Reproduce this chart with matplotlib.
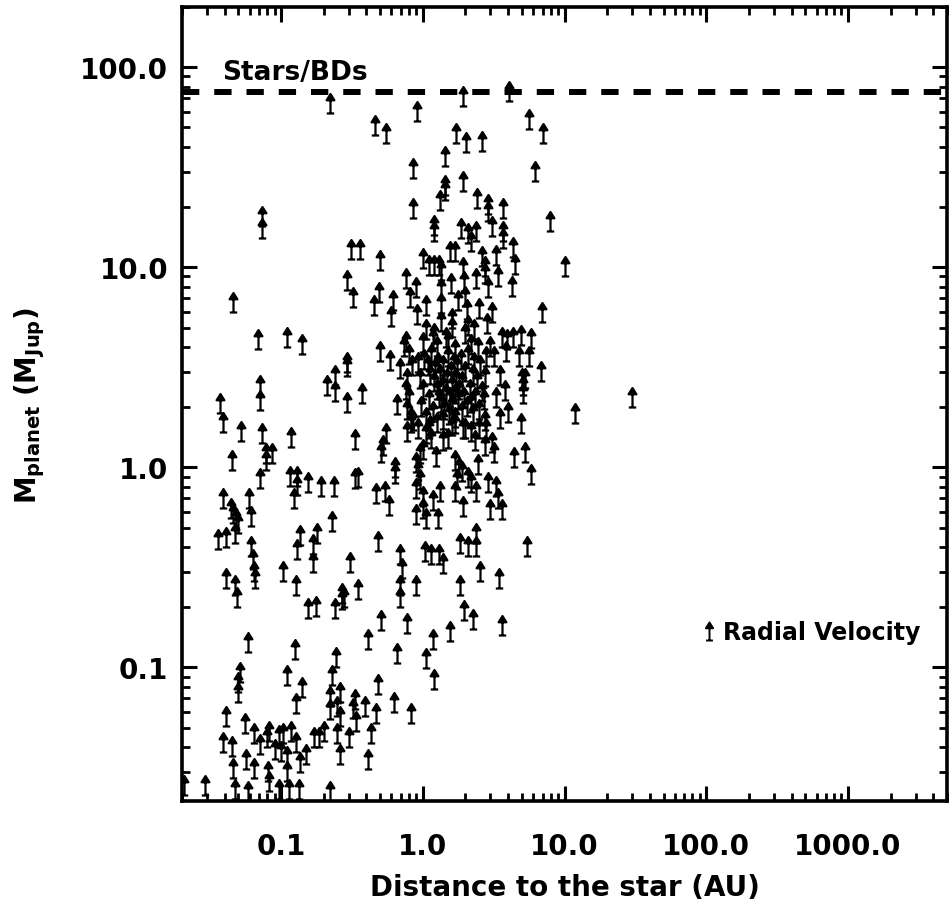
import matplotlib
matplotlib.use('Agg')
import matplotlib.pyplot as plt
from matplotlib.path import Path
from matplotlib.lines import Line2D
from matplotlib.ticker import FixedLocator, LogLocator, NullFormatter

plt.rcParams['font.family'] = ['DejaVu Sans']
plt.rcParams['font.weight'] = 'bold'
plt.rcParams['mathtext.default'] = 'bf'

# radial velocity planets: (semi-major axis in AU, minimum mass in M_Jup)
planets = [
    # outer / high-mass part
    (0.22, 59), (0.46, 46), (0.55, 42), (0.073, 14), (0.073, 16), (0.31, 11), (0.36, 11), (0.50, 9.7),
    (0.91, 54), (1.92, 64), (4.05, 68), (5.6, 49), (7.1, 42), (1.71, 42), (2.01, 37.6), (2.6, 38),
    (1.43, 32), (0.85, 28), (6.2, 27), (1.92, 24), (1.43, 21.6), (1.43, 23), (1.32, 19.3), (2.4, 19.7),
    (2.9, 17), (2.9, 18.5), (3.7, 17.6), (0.85, 17.6), (7.9, 15.2), (3.07, 14.3), (1.2, 13.6), (1.2, 14.5),
    (1.85, 14), (2.08, 13.2), (2.37, 13.5), (3.7, 13.5), (3.7, 12.5), (4.3, 11.3), (2.2, 12), (1.55, 10.8),
    (1.7, 10.8), (2.6, 10.2), (3.3, 10.3), (4.5, 9.3), (1.0, 9.9), (1.1, 9.1), (1.2, 9.1), (1.3, 9.1), (10, 9.0),
    # around 1-10 AU
    (6.9, 5.3), (6.8, 2.7), (30, 2.0), (11.8, 1.66), (5.3, 1.06), (4.4, 1.01), (5.8, 0.83), (3.6, 0.55),
    (3.0, 0.55), (3.4, 0.63), (1.92, 0.57), (1.28, 0.5), (1.05, 0.5), (0.89, 0.52), (0.89, 7.1), (1.05, 5.75),
    (0.91, 5.2), (1.6, 5.0), (1.34, 8.6), (1.34, 7.0), (1.34, 5.9), (1.34, 4.8), (1.58, 7.4), (1.76, 6.1),
    (1.92, 8.9), (1.95, 7.6), (2.0, 6.4), (2.05, 5.5), (2.1, 4.6), (2.37, 7.9), (2.74, 8.3), (2.74, 9.0),
    (2.9, 7.1), (3.4, 8.1), (4.25, 7.2), (2.5, 5.6), (3.07, 5.3), (2.83, 4.7), (3.6, 4.0), (3.9, 3.9),
    (4.3, 4.0), (4.9, 4.1), (5.8, 3.95), (3.85, 3.4), (4.76, 3.2), (5.6, 3.2), (5.3, 2.5), (1.0, 3.76),
    (1.18, 3.95), (1.45, 4.0), (3.0, 3.6), (2.45, 3.55), (3.2, 3.2), (3.5, 2.57), (3.8, 2.16), (3.3, 2.0),
    (5.1, 2.1), (5.1, 2.3), (5.0, 2.5), (3.97, 1.68), (4.9, 1.48), (3.5, 1.58), (2.74, 1.53), (2.25, 1.66),
    (3.1, 1.19), (2.5, 1.41), (2.8, 1.41), (2.0, 1.41), (3.2, 1.06), (2.74, 1.15), (2.33, 1.22), (2.2, 1.36),
    (1.7, 0.97), (1.8, 0.9), (1.9, 0.85), (2.1, 0.8), (1.75, 0.78), (2.45, 0.93), (2.88, 0.75), (3.3, 0.72),
    (2.37, 0.68), (2.18, 0.75), (1.7, 0.68), (1.32, 0.68), (1.18, 0.61), (1.0, 0.56), (0.9, 0.95), (0.93, 0.86),
    (0.95, 0.78), (0.9, 0.7), (1.0, 0.64), (0.95, 1.05), (1.0, 1.1), (1.24, 1.02), (1.05, 1.32), (1.15, 1.25),
    (1.1, 1.4), (1.38, 1.22), (1.5, 1.25), (1.68, 1.48), (1.92, 1.41), (0.85, 1.53), (0.93, 1.41),
    (1.05, 4.4), (1.2, 4.2), (1.25, 3.6), (1.5, 3.8), (1.6, 4.5), (1.7, 3.5), (2.0, 4.2), (2.2, 3.7), (2.3, 4.4),
    # dense core
    (1.02, 3.1), (1.08, 2.9), (1.12, 2.6), (1.15, 3.3), (1.2, 2.4), (1.22, 2.8), (1.25, 2.2), (1.28, 3.0),
    (1.3, 2.0), (1.32, 2.6), (1.35, 1.9), (1.38, 2.3), (1.4, 2.9), (1.42, 1.75), (1.45, 2.1), (1.48, 2.5),
    (1.5, 3.2), (1.52, 1.65), (1.55, 2.0), (1.58, 2.7), (1.6, 2.3), (1.62, 1.85), (1.65, 3.0), (1.68, 2.1),
    (1.7, 1.6), (1.72, 2.5), (1.75, 2.85), (1.78, 1.95), (1.8, 2.2), (1.85, 3.1), (1.88, 1.7), (1.9, 2.4),
    (1.95, 2.0), (2.0, 2.7), (2.05, 1.8), (2.1, 3.3), (2.15, 2.2), (2.2, 1.9), (2.25, 2.6), (2.3, 3.0),
    (2.35, 2.0), (2.4, 2.4), (2.5, 1.75), (2.55, 2.9), (2.6, 2.15), (2.7, 1.95), (2.75, 2.55), (2.8, 3.2),
    (0.95, 2.5), (0.97, 1.8), (1.0, 2.2), (1.05, 1.6), (1.1, 1.95), (0.93, 3.0), (1.18, 1.7), (1.4, 1.55),
    (1.62, 1.45), (1.25, 1.5), (1.12, 1.45),
    # 0.03 - 1 AU, 0.5 - 8 M_Jup
    (0.046, 5.95), (0.069, 3.9), (0.11, 4.0), (0.14, 3.7), (0.29, 7.7), (0.32, 6.3), (0.49, 6.7), (0.45, 5.75),
    (0.62, 6.1), (0.6, 5.1), (0.76, 7.9), (0.81, 6.3), (0.5, 3.4), (0.59, 3.05), (0.69, 2.8), (0.76, 3.8),
    (0.8, 3.3), (0.84, 2.9), (0.29, 2.85), (0.29, 3.0), (0.24, 2.57), (0.21, 2.3), (0.24, 2.14), (0.29, 1.9),
    (0.37, 2.1), (0.66, 1.84), (0.76, 2.2), (0.78, 1.75), (0.82, 1.5), (0.037, 1.88), (0.039, 1.5), (0.071, 1.93),
    (0.071, 2.3), (0.052, 1.36), (0.073, 1.33), (0.117, 1.26), (0.33, 1.23), (0.55, 1.32), (0.51, 1.06),
    (0.52, 1.15), (0.64, 0.84), (0.64, 0.9), (0.087, 1.05), (0.078, 0.97), (0.078, 1.05), (0.045, 0.97),
    (0.071, 0.79), (0.115, 0.81), (0.13, 0.81), (0.13, 0.73), (0.155, 0.75), (0.19, 0.72), (0.235, 0.72),
    (0.123, 0.63), (0.33, 0.79), (0.35, 0.8), (0.47, 0.66), (0.54, 0.68), (0.58, 0.58), (0.039, 0.63),
    (0.059, 0.63), (0.044, 0.56), (0.046, 0.53), (0.048, 0.5), (0.05, 0.47), (0.061, 0.51), (0.23, 0.48),
    (0.74, 3.6), (0.78, 2.5), (0.8, 2.0), (0.83, 1.6), (0.77, 1.35),
    # low-mass part
    (0.036, 0.39), (0.041, 0.40), (0.047, 0.42), (0.061, 0.36), (0.063, 0.31), (0.064, 0.27), (0.065, 0.25),
    (0.041, 0.25), (0.047, 0.23), (0.049, 0.2), (0.058, 0.12), (0.103, 0.27), (0.127, 0.23), (0.13, 0.35),
    (0.137, 0.41), (0.167, 0.37), (0.167, 0.3), (0.18, 0.42), (0.305, 0.3), (0.155, 0.176), (0.175, 0.18),
    (0.24, 0.176), (0.27, 0.21), (0.27, 0.195), (0.28, 0.2), (0.35, 0.22), (0.48, 0.38), (0.69, 0.33),
    (0.71, 0.28), (0.69, 0.23), (0.69, 0.2), (0.51, 0.153), (0.41, 0.124), (0.78, 0.148), (0.66, 0.105),
    (0.125, 0.11), (0.245, 0.1), (0.11, 0.082), (0.23, 0.082), (0.14, 0.071), (0.05, 0.067), (0.05, 0.075),
    (0.051, 0.085), (0.041, 0.051), (0.127, 0.059), (0.26, 0.067), (0.48, 0.074), (0.63, 0.06), (0.82, 0.053),
    (0.22, 0.055), (0.22, 0.064), (0.25, 0.057), (0.26, 0.051), (0.32, 0.056), (0.33, 0.062), (0.34, 0.048),
    (0.39, 0.057), (0.47, 0.053), (0.43, 0.042), (0.2, 0.043), (0.17, 0.04), (0.185, 0.04), (0.15, 0.033),
    (0.135, 0.03), (0.3, 0.04), (0.25, 0.042), (0.26, 0.033), (0.41, 0.031), (0.039, 0.038), (0.045, 0.036),
    (0.046, 0.028), (0.056, 0.047), (0.064, 0.042), (0.071, 0.037), (0.082, 0.043), (0.08, 0.04), (0.09, 0.035),
    (0.097, 0.041), (0.103, 0.042), (0.117, 0.043), (0.1, 0.034), (0.11, 0.032), (0.127, 0.038), (0.11, 0.027),
    (0.057, 0.031), (0.064, 0.028), (0.081, 0.027), (0.082, 0.024), (0.029, 0.023), (0.0205, 0.023),
    (0.047, 0.022), (0.058, 0.0215), (0.113, 0.022), (0.133, 0.022), (0.22, 0.0215), (0.097, 0.022),
    (1.03, 0.34), (1.14, 0.33), (1.3, 0.33), (1.38, 0.295), (1.83, 0.375), (2.1, 0.36), (2.37, 0.42),
    (2.37, 0.36), (2.55, 0.27), (3.45, 0.25), (5.4, 0.36), (0.89, 0.23), (1.83, 0.23), (1.95, 0.172),
    (2.25, 0.155), (3.6, 0.145), (1.55, 0.135), (1.18, 0.124), (1.05, 0.099), (1.2, 0.078),
]
distance_au = [p[0] for p in planets]
mass_mjup = [p[1] for p in planets]

stars_bd_limit = 75.0
x_ticks = [0.1, 1, 10, 100, 1000]
x_labels = ['0.1', '1.0', '10.0', '100.0', '1000.0']
y_ticks = [0.1, 1, 10, 100]
y_labels = ['0.1', '1.0', '10.0', '100.0']


def arrow_marker(base_at_origin=True):
	# upward arrow with a bar at the bottom
	y0 = 0.0 if base_at_origin else -0.5
	verts = [(-0.19, y0), (0.19, y0),
			 (0.0, y0), (0.0, y0 + 0.74),
			 (-0.2, y0 + 0.68), (0.0, y0 + 1.0), (0.2, y0 + 0.68), (-0.2, y0 + 0.68)]
	codes = [Path.MOVETO, Path.LINETO,
			 Path.MOVETO, Path.LINETO,
			 Path.MOVETO, Path.LINETO, Path.LINETO, Path.CLOSEPOLY]
	return Path(verts, codes)


fig = plt.figure(figsize=(9.52, 9.03), dpi=100)
ax = fig.add_axes([182 / 952, 101 / 903, 765 / 952, 794 / 903])

ax.plot(distance_au, mass_mjup, ls='none', marker=arrow_marker(), ms=28,
		mfc='k', mec='k', mew=1.6)

ax.axhline(stars_bd_limit, color='k', lw=4.3, dashes=(2.9, 2.5))
ax.text(0.0385, 95, 'Stars/BDs', fontsize=19, fontweight='bold', va='center', ha='left')

ax.set_xscale('log')
ax.set_yscale('log')
ax.set_xlim(0.02, 5000)
ax.set_ylim(0.0215, 200)

ax.xaxis.set_major_locator(FixedLocator(x_ticks))
ax.set_xticklabels(x_labels)
ax.yaxis.set_major_locator(FixedLocator(y_ticks))
ax.set_yticklabels(y_labels)
ax.xaxis.set_minor_locator(LogLocator(base=10, subs=range(2, 10), numticks=20))
ax.yaxis.set_minor_locator(LogLocator(base=10, subs=range(2, 10), numticks=20))
ax.xaxis.set_minor_formatter(NullFormatter())
ax.yaxis.set_minor_formatter(NullFormatter())

ax.tick_params(which='both', direction='in', top=True, right=True, labelsize=20)
ax.tick_params(which='major', length=11, width=2.2)
ax.tick_params(which='minor', length=5.5, width=2.0)
ax.tick_params(axis='x', which='major', pad=22)
ax.tick_params(axis='y', which='major', pad=10)
for lab in ax.get_xticklabels() + ax.get_yticklabels():
	lab.set_fontweight('bold')
for sp in ax.spines.values():
	sp.set_linewidth(2.6)

ax.set_xlabel('Distance to the star (AU)', fontsize=20, fontweight='bold', labelpad=10)
ax.set_ylabel('M$_{planet}$ (M$_{Jup}$)', fontsize=20, fontweight='bold', labelpad=24)

handle = Line2D([], [], ls='none', marker=arrow_marker(False), ms=13, mfc='k', mec='k', mew=1.4)
ax.legend([handle], ['Radial Velocity'], loc='center left', bbox_to_anchor=(0.68, 0.213),
		  frameon=False, handlelength=0.6, handletextpad=0.3, borderpad=0, borderaxespad=0,
		  prop={'size': 17, 'weight': 'bold'})

fig.savefig('out.png', dpi=100)
